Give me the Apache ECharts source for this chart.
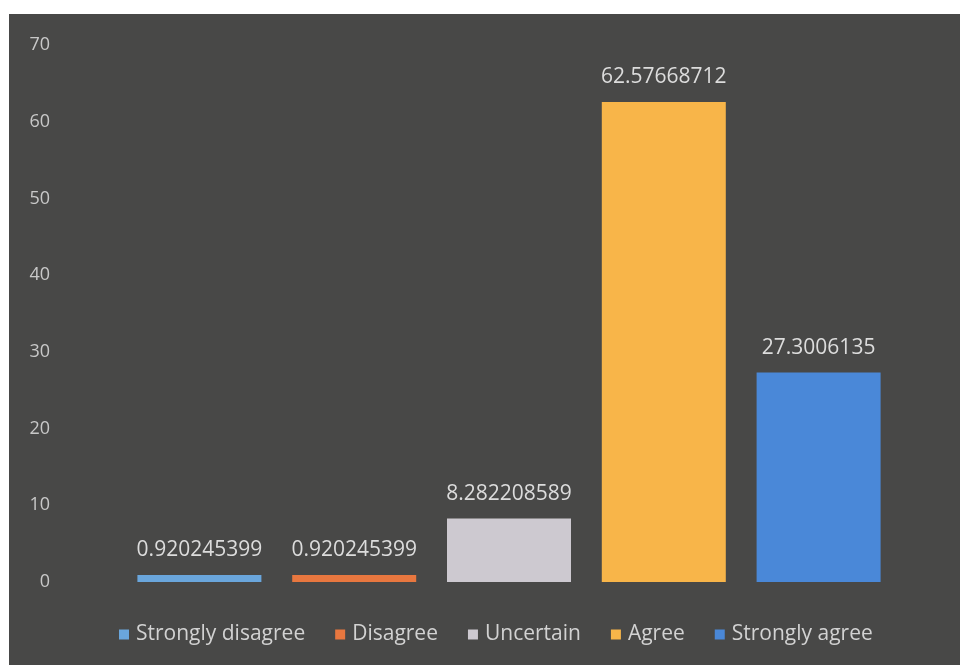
<!DOCTYPE html>
<html>
<head>
<meta charset="utf-8">
<script src="https://cdn.jsdelivr.net/npm/echarts@6/dist/echarts.min.js"></script>
<style>
html,body{margin:0;padding:0;background:#ffffff;}
#frame{position:absolute;left:9px;top:14px;width:951px;height:651px;background:#484847;}
#chart{position:absolute;left:0;top:0;width:960px;height:665px;}
</style>
</head>
<body>
<div id="frame"></div>
<div id="chart"></div>
<script>
const categories = ['Strongly disagree', 'Disagree', 'Uncertain', 'Agree', 'Strongly agree'];
const values = [0.920245399, 0.920245399, 8.282208589, 62.57668712, 27.3006135];
const labels = ['0.920245399', '0.920245399', '8.282208589', '62.57668712', '27.3006135'];
const colors = ['#6aa6dc', '#e8773f', '#cdc9d0', '#f8b549', '#4a88d8'];
const yTicks = [0, 10, 20, 30, 40, 50, 60, 70];

const chart = echarts.init(document.getElementById('chart'));
const series = categories.map((name, i) => ({
  name: name,
  type: 'bar',
  stack: 'all',
  barWidth: 124,
  data: categories.map((c, j) => j === i ? values[i] : '-'),
  itemStyle: { color: colors[i] },
  label: {
    show: true,
    position: 'top',
    distance: 14,
    color: '#dcdcdc',
    fontFamily: 'Open Sans',
    fontSize: 21,
    formatter: () => labels[i]
  }
}));

chart.setOption({
  backgroundColor: 'transparent',
  animation: false,
  grid: { left: 122, right: 64, top: 45, bottom: 83 },
  legend: {
    data: categories,
    left: 114,
    top: 619,
    icon: 'rect',
    itemWidth: 10,
    itemHeight: 10,
    itemGap: 30,
    textStyle: { color: '#d2d2d2', fontFamily: 'Open Sans', fontSize: 21, padding: [0, 0, 0, 2] }
  },
  xAxis: {
    type: 'category',
    data: categories,
    axisLine: { show: false },
    axisTick: { show: false },
    axisLabel: { show: false }
  },
  yAxis: {
    type: 'value',
    min: yTicks[0],
    max: yTicks[yTicks.length - 1],
    interval: 10,
    splitLine: { show: false },
    axisLine: { show: false },
    axisTick: { show: false },
    axisLabel: { color: '#c8c8c8', fontFamily: 'Open Sans', fontSize: 18, margin: 72 }
  },
  series: series
});
</script>
</body>
</html>
